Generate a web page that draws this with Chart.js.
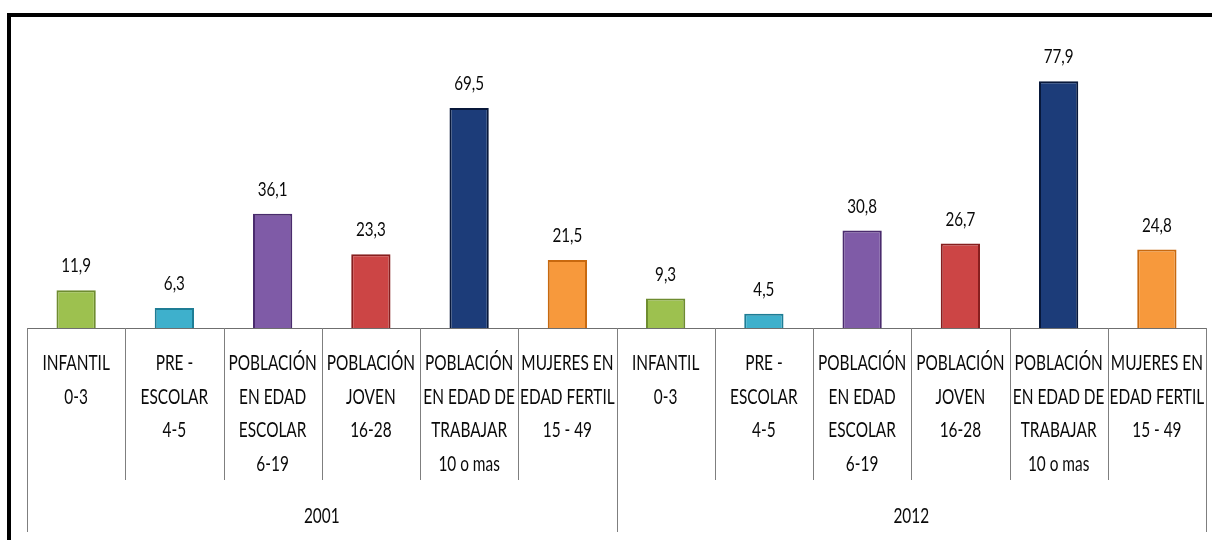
<!DOCTYPE html>
<html lang="es">
<head>
<meta charset="utf-8">
<title>Población por grupos 2001 - 2012</title>
<script src="https://cdn.jsdelivr.net/npm/chart.js@4.4.1/dist/chart.umd.min.js"></script>
<style>
  html, body { margin: 0; padding: 0; background: #fff; }
  #wrap { position: relative; width: 1212px; height: 540px; overflow: hidden; }
  #marco { position: absolute; left: 7px; top: 13px; right: -10px; bottom: -10px;
           border-top: 4px solid #000; border-left: 4px solid #000; pointer-events: none; }
</style>
</head>
<body>
<div id="wrap">
  <canvas id="chart-poblacion"></canvas>
  <div id="marco"></div>
</div>
<script>
// ── Datos ───────────────────────────────────────────────────────────────────
const categorias = [
  ['INFANTIL', '0-3'],
  ['PRE -', 'ESCOLAR', '4-5'],
  ['POBLACIÓN', 'EN EDAD', 'ESCOLAR', '6-19'],
  ['POBLACIÓN', 'JOVEN', '16-28'],
  ['POBLACIÓN', 'EN EDAD DE', 'TRABAJAR', '10 o mas'],
  ['MUJERES EN', 'EDAD FERTIL', '15 - 49']
];
const anios       = ['2001', '2012'];
const valores2001 = [11.9, 6.3, 36.1, 23.3, 69.5, 21.5];
const valores2012 = [9.3, 4.5, 30.8, 26.7, 77.9, 24.8];

const coloresRelleno = ['#9dc14f', '#3eb0cc', '#7f5ba7', '#cc4545', '#1c3c79', '#f7993c'];
const coloresBorde   = ['#6e8c30', '#1e7d95', '#4a2b6d', '#861e1e', '#08183a', '#c8690f'];

const FUENTE = 'Lato, "Open Sans", sans-serif';

// ── Estructura para Chart.js ────────────────────────────────────────────────
const etiquetas = categorias.concat(categorias);
const valores   = valores2001.concat(valores2012);
const rellenos  = coloresRelleno.concat(coloresRelleno);
const bordes    = coloresBorde.concat(coloresBorde);
const porGrupo  = categorias.length;

function _fmt(v) {
  return v.toFixed(1).replace('.', ',');
}

// Texto estrecho (tipo Calibri comprimido) centrado en x, y
function _textoEstrecho(ctx, txt, x, y, escala) {
  ctx.save();
  ctx.translate(x, y);
  ctx.scale(escala, 1);
  ctx.fillText(txt, 0, 0);
  ctx.restore();
}

// Etiquetas de valor encima de cada barra
const pluginValores = {
  id: 'valores',
  afterDatasetsDraw(chart) {
    const ctx  = chart.ctx;
    const meta = chart.getDatasetMeta(0);
    ctx.save();
    ctx.font = '19px ' + FUENTE;
    ctx.fillStyle = '#0a0a0a';
    ctx.textAlign = 'center';
    ctx.textBaseline = 'middle';
    meta.data.forEach((bar, i) => {
      _textoEstrecho(ctx, _fmt(valores[i]), bar.x, bar.y - 24, 0.8);
    });
    ctx.restore();
  }
};

// Eje multinivel: categorías, separadores y años
const pluginEjeGrupos = {
  id: 'ejeGrupos',
  afterDraw(chart) {
    const ctx   = chart.ctx;
    const x     = chart.scales.x;
    const area  = chart.chartArea;
    const n     = etiquetas.length;
    const ancho = (area.right - area.left) / n;
    ctx.save();
    ctx.strokeStyle = '#7f7f7f';
    ctx.lineWidth = 1;
    for (let i = 0; i <= n; i++) {
      const px = Math.round(area.left + i * ancho) + 0.5;
      const largo = (i % porGrupo === 0) ? 532 : 480;
      ctx.beginPath();
      ctx.moveTo(px, area.bottom);
      ctx.lineTo(px, largo);
      ctx.stroke();
    }
    ctx.fillStyle = '#0a0a0a';
    ctx.textAlign = 'center';
    ctx.textBaseline = 'middle';
    ctx.font = '22px ' + FUENTE;
    etiquetas.forEach((lineas, i) => {
      const cx = x.getPixelForValue(i);
      lineas.forEach((l, j) => {
        _textoEstrecho(ctx, l, cx, area.bottom + 35 + j * 33.6, 0.7);
      });
    });
    anios.forEach((a, g) => {
      const x0 = x.getPixelForValue(g * porGrupo);
      const x1 = x.getPixelForValue(g * porGrupo + porGrupo - 1);
      _textoEstrecho(ctx, a, (x0 + x1) / 2, 516, 0.7);
    });
    ctx.restore();
  }
};

new Chart(document.getElementById('chart-poblacion').getContext('2d'), {
  type: 'bar',
  data: {
    labels: etiquetas,
    datasets: [{
      data: valores,
      backgroundColor: rellenos,
      borderColor: bordes,
      borderWidth: 2,
      borderSkipped: 'bottom',
      barPercentage: 0.4,
      categoryPercentage: 1
    }]
  },
  options: {
    responsive: true,
    maintainAspectRatio: false,
    animation: false,
    layout: { padding: { top: 43, left: 27, right: 6, bottom: 0 } },
    plugins: {
      legend: { display: false },
      tooltip: { enabled: false }
    },
    scales: {
      x: {
        offset: true,
        grid: { display: false, drawTicks: false },
        border: { display: true, color: '#6f6f6f', width: 1 },
        ticks: { display: false },
        afterFit: scale => {
          scale.height = 212;
          scale.paddingLeft = 0;
          scale.paddingRight = 0;
        }
      },
      y: {
        display: false,
        min: 0,
        max: 90
      }
    }
  },
  plugins: [pluginValores, pluginEjeGrupos]
});
</script>
</body>
</html>
